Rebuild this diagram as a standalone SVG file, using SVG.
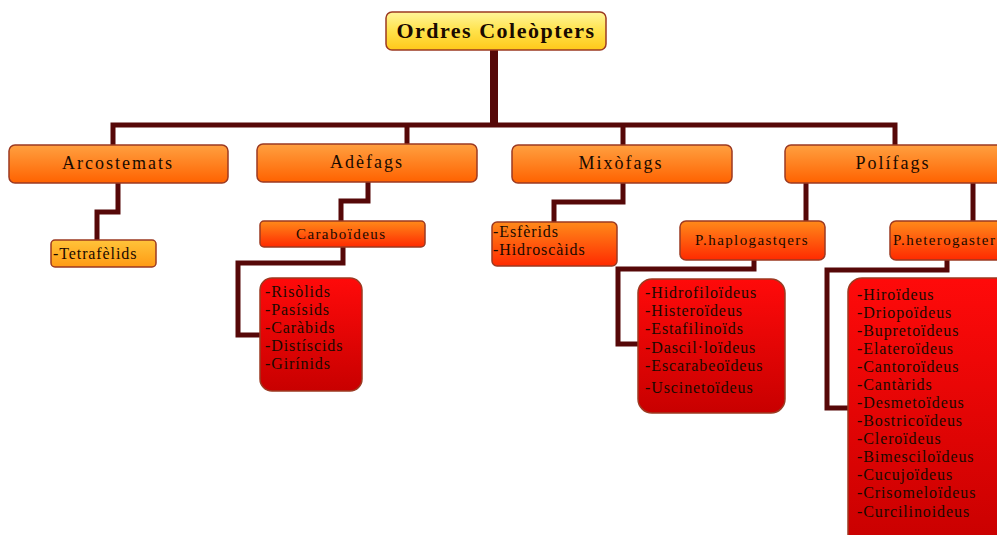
<svg xmlns="http://www.w3.org/2000/svg" width="997" height="535" viewBox="0 0 997 535">
<defs>
<linearGradient id="gY" x1="0" y1="0" x2="0" y2="1"><stop offset="0" stop-color="#fff59a"/><stop offset="0.5" stop-color="#ffe24a"/><stop offset="1" stop-color="#ffc81a"/></linearGradient>
<linearGradient id="gO" x1="0" y1="0" x2="0" y2="1"><stop offset="0" stop-color="#ffa040"/><stop offset="1" stop-color="#ff6200"/></linearGradient>
<linearGradient id="gT" x1="0" y1="0" x2="0" y2="1"><stop offset="0" stop-color="#ffc43a"/><stop offset="1" stop-color="#ff9a14"/></linearGradient>
<linearGradient id="gR" x1="0" y1="0" x2="0" y2="1"><stop offset="0" stop-color="#ff8a1a"/><stop offset="1" stop-color="#ff2a00"/></linearGradient>
<linearGradient id="gL" x1="0" y1="0" x2="0" y2="1"><stop offset="0" stop-color="#ff0a0a"/><stop offset="1" stop-color="#c80000"/></linearGradient>
</defs>
<style>
.c{fill:none;stroke:#560808;stroke-width:5;stroke-linejoin:miter}
.b{stroke:#9c3a22;stroke-width:1.5}
.t{font-family:"Liberation Serif",serif;fill:#1a0a00}
.h1{font-size:18px;letter-spacing:2px;text-anchor:middle}
.h2{font-size:15px;letter-spacing:1.4px}
.li{font-size:16px;letter-spacing:0.9px}
</style>
<rect width="997" height="535" fill="#ffffff"/>
<g id="connectors">
<path class="c" d="M494 50V125" style="stroke-width:8"/>
<path class="c" d="M113 145V125H895V145"/>
<path class="c" d="M407 125V145"/>
<path class="c" d="M623 125V145"/>
<path class="c" d="M118 183V212H97V240"/>
<path class="c" d="M368 182V201H341V221"/>
<path class="c" d="M343 247V263H238V335H260"/>
<path class="c" d="M623 183V202H554V222"/>
<path class="c" d="M806 183V221"/>
<path class="c" d="M973 183V221"/>
<path class="c" d="M754 260V269H618V344H638"/>
<path class="c" d="M947 260V270H827V408H848"/>
</g>
<g id="root">
<rect class="b" x="386" y="12" width="220" height="38" rx="6" fill="url(#gY)"/>
<text class="t" x="496" y="38" font-size="22" font-weight="bold" letter-spacing="1.5" text-anchor="middle">Ordres Coleòpters</text>
</g>
<g id="arcostemats">
<rect class="b" x="9" y="145" width="219" height="38" rx="6" fill="url(#gO)"/>
<text class="t h1" x="118" y="169">Arcostemats</text>
</g>
<g id="adefags">
<rect class="b" x="257" y="144" width="220" height="38" rx="6" fill="url(#gO)"/>
<text class="t h1" x="367" y="168">Adèfags</text>
</g>
<g id="mixofags">
<rect class="b" x="512" y="145" width="220" height="38" rx="6" fill="url(#gO)"/>
<text class="t h1" x="621" y="169">Mixòfags</text>
</g>
<g id="polifags">
<rect class="b" x="785" y="145" width="220" height="38" rx="6" fill="url(#gO)"/>
<text class="t h1" x="893" y="169">Polífags</text>
</g>
<g id="tetrafelids">
<rect class="b" x="51" y="240" width="105" height="27" rx="4" fill="url(#gT)"/>
<text class="t li" x="53" y="259">-Tetrafèlids</text>
</g>
<g id="caraboideus">
<rect class="b" x="260" y="221" width="165" height="26" rx="4" fill="url(#gR)"/>
<text class="t h2" x="296" y="239">Caraboïdeus</text>
</g>
<g id="esferids">
<rect class="b" x="492" y="222" width="125" height="44" rx="5" fill="url(#gR)"/>
<text class="t li" x="493" y="237">-Esfèrids</text>
<text class="t li" x="493" y="255">-Hidroscàids</text>
</g>
<g id="phaplo">
<rect class="b" x="680" y="221" width="145" height="39" rx="6" fill="url(#gR)"/>
<text class="t h2" x="695" y="245">P.haplogastqers</text>
</g>
<g id="phetero">
<rect class="b" x="890" y="221" width="120" height="39" rx="6" fill="url(#gR)"/>
<text class="t h2" x="893" y="245">P.heterogaster</text>
</g>
<g id="list-adefags">
<rect class="b" x="260" y="278" width="102" height="113" rx="12" fill="url(#gL)"/>
<text class="t li" x="265" y="297">-Risòlids</text>
<text class="t li" x="265" y="315">-Pasísids</text>
<text class="t li" x="265" y="333">-Caràbids</text>
<text class="t li" x="265" y="351">-Distíscids</text>
<text class="t li" x="265" y="369">-Girínids</text>
</g>
<g id="list-haplo">
<rect class="b" x="638" y="279" width="147" height="134" rx="14" fill="url(#gL)"/>
<text class="t li" x="645" y="298">-Hidrofiloïdeus</text>
<text class="t li" x="645" y="316">-Histeroïdeus</text>
<text class="t li" x="645" y="334">-Estafilinoïds</text>
<text class="t li" x="645" y="353">-Dascil·loïdeus</text>
<text class="t li" x="645" y="371">-Escarabeoïdeus</text>
<text class="t li" x="645" y="393">-Uscinetoïdeus</text>
</g>
<g id="list-hetero">
<rect class="b" x="848" y="278" width="165" height="270" rx="14" fill="url(#gL)"/>
<text class="t li" x="857" y="300">-Hiroïdeus</text>
<text class="t li" x="857" y="318">-Driopoïdeus</text>
<text class="t li" x="857" y="336">-Bupretoïdeus</text>
<text class="t li" x="857" y="354">-Elateroïdeus</text>
<text class="t li" x="857" y="372">-Cantoroïdeus</text>
<text class="t li" x="857" y="390">-Cantàrids</text>
<text class="t li" x="857" y="408">-Desmetoïdeus</text>
<text class="t li" x="857" y="426">-Bostricoïdeus</text>
<text class="t li" x="857" y="444">-Cleroïdeus</text>
<text class="t li" x="857" y="462">-Bimesciloïdeus</text>
<text class="t li" x="857" y="480">-Cucujoïdeus</text>
<text class="t li" x="857" y="498">-Crisomeloïdeus</text>
<text class="t li" x="857" y="517">-Curcilinoideus</text>
</g>
</svg>
